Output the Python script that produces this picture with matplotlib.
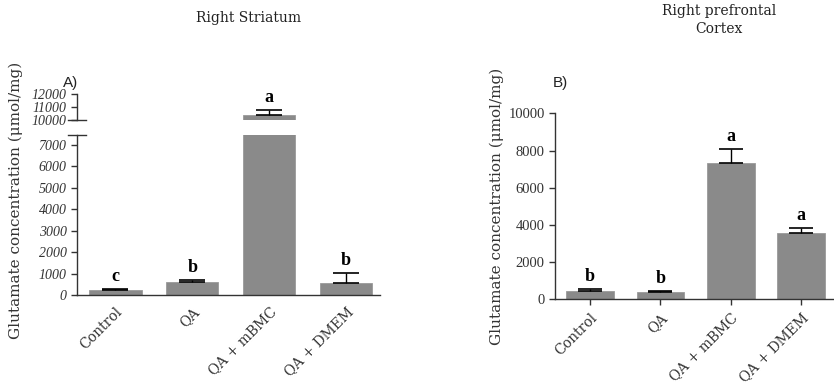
import matplotlib.pyplot as plt
import numpy as np

groups = ["Control", "QA", "QA + mBMC", "QA + DMEM"]

# Right striatum
striatum_mean = [225, 620, 10380, 560]
striatum_sem = [45, 80, 390, 480]
striatum_letters = ["c", "b", "a", "b"]

# Right prefrontal cortex
cortex_mean = [460, 395, 7330, 3550]
cortex_sem = [75, 65, 750, 285]
cortex_letters = ["b", "b", "a", "a"]

bar_color = "#8a8a8a"
axis_color = "#333333"
num_font = "Liberation Serif"
text_font = "DejaVu Serif"

plt.rcParams["font.family"] = num_font

fig = plt.figure(figsize=(8.34, 3.85), dpi=100)

# panel A is split into a lower and an upper segment (broken axis)
axA = fig.add_axes([0.0923, 0.2338, 0.3633, 0.4156])
axA_top = fig.add_axes([0.0923, 0.6883, 0.3633, 0.0675])
axB = fig.add_axes([0.6655, 0.2226, 0.333, 0.4831])

x = np.arange(len(groups))


def draw_bars(ax, means, sems, width, cap):
    ax.bar(x, means, width=width, color=bar_color, edgecolor="#9a9a9a", linewidth=0.6, zorder=2)
    ax.errorbar(x, means, yerr=[np.zeros(len(sems)), sems], fmt="none",
                ecolor="black", elinewidth=1.0, capsize=cap, capthick=1.2, zorder=3)


def style(ax):
    for s in ["top", "right"]:
        ax.spines[s].set_visible(False)
    for s in ["left", "bottom"]:
        ax.spines[s].set_color(axis_color)
        ax.spines[s].set_linewidth(1.0)
    ax.tick_params(colors=axis_color, width=1.0, length=4)


def letters(ax, i, top, let):
    ax.annotate(let, xy=(i, top), xytext=(0, 3), textcoords="offset points",
                ha="center", va="bottom", fontsize=13, fontweight="bold",
                annotation_clip=False)


# --- panel A ---
draw_bars(axA, striatum_mean, striatum_sem, 0.68, 9.5)
draw_bars(axA_top, striatum_mean, striatum_sem, 0.68, 9.5)
for ax in (axA, axA_top):
    style(ax)
    ax.set_xlim(-0.5, 3.44)
axA.set_ylim(0, 7470)
axA.set_yticks(range(0, 8000, 1000))
axA_top.set_ylim(10000, 12000)
axA_top.set_yticks([10000, 11000, 12000])
axA_top.spines["bottom"].set_visible(False)
axA_top.set_xticks([])
for ax in (axA, axA_top):
    for lab in ax.get_yticklabels():
        lab.set_fontstyle("italic")
        lab.set_fontsize(10)
        lab.set_color(axis_color)

axA.set_xticks(x)
axA.set_xticklabels(groups, rotation=45, ha="right", rotation_mode="anchor",
                    fontsize=10, color=axis_color, family=text_font)
axA.tick_params(axis="x", length=0, pad=7)

# break marks on the y axis
axA.plot([-0.03, 0.03], [1, 1], transform=axA.transAxes, color=axis_color,
         lw=1.0, clip_on=False)
axA_top.plot([-0.03, 0.03], [0, 0], transform=axA_top.transAxes, color=axis_color,
             lw=1.0, clip_on=False)

for i, (m, e, let) in enumerate(zip(striatum_mean, striatum_sem, striatum_letters)):
    letters(axA_top if m + e > 7470 else axA, i, m + e, let)

axA.set_ylabel("Glutamate concentration (μmol/mg)", fontsize=11,
               color=axis_color, family=text_font)
axA.yaxis.set_label_coords(-0.178, 0.59)

# --- panel B ---
draw_bars(axB, cortex_mean, cortex_sem, 0.68, 8.6)
style(axB)
axB.set_xlim(-0.5, 3.45)
axB.set_ylim(0, 10000)
axB.set_yticks(range(0, 10001, 2000))
axB.set_yticklabels([str(v) for v in range(0, 10001, 2000)], fontsize=10.5,
                    color=axis_color)
axB.set_xticks(x)
axB.set_xticklabels(groups, rotation=45, ha="right", rotation_mode="anchor",
                    fontsize=10, color=axis_color, family=text_font)
axB.tick_params(axis="x", pad=4)
for i, (m, e, let) in enumerate(zip(cortex_mean, cortex_sem, cortex_letters)):
    letters(axB, i, m + e, let)
axB.set_ylabel("Glutamate concentration (μmol/mg)", fontsize=11,
               color=axis_color, family=text_font)
axB.yaxis.set_label_coords(-0.182, 0.5)

# titles and panel letters
fig.text(0.298, 0.953, "Right Striatum", ha="center", va="center", fontsize=10,
         color="#222222", family=text_font)
fig.text(0.862, 0.947, "Right prefrontal\nCortex", ha="center", va="center",
         fontsize=10, color="#222222", linespacing=1.35, family=text_font)
fig.text(0.075, 0.785, "A)", ha="left", va="center", fontsize=11,
         family="Liberation Sans", color="#222222")
fig.text(0.663, 0.785, "B)", ha="left", va="center", fontsize=11,
         family="Liberation Sans", color="#222222")

fig.savefig("out.png", dpi=100)
